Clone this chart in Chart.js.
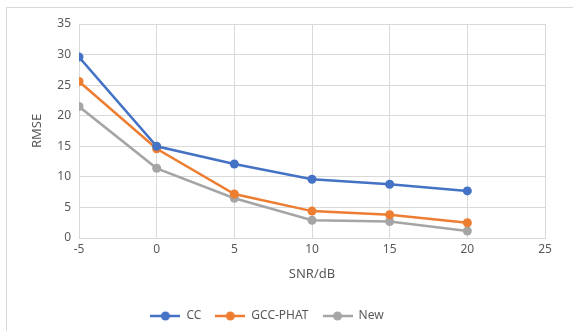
<!doctype html>
<html>
<head>
<meta charset="utf-8">
<script src="https://cdn.jsdelivr.net/npm/chart.js@4/dist/chart.umd.min.js"></script>
<style>
  html, body { margin: 0; padding: 0; background: #fff; }
  #wrap { position: relative; width: 573px; height: 331px; overflow: hidden; }
  #frame { position: absolute; left: 6px; top: 7px; width: 600px; height: 400px; border: 1px solid #d9d9d9; }
  #chart { position: absolute; left: 0; top: 0; }
</style>
</head>
<body>
<div id="wrap">
  <div id="frame"></div>
  <canvas id="chart" width="573" height="331"></canvas>
</div>
<script>
  const snr = [-5, 0, 5, 10, 15, 20];
  const ccValues = [29.6, 15.0, 12.1, 9.6, 8.8, 7.7];
  const gccValues = [25.6, 14.6, 7.2, 4.4, 3.8, 2.5];
  const newValues = [21.5, 11.4, 6.5, 2.9, 2.7, 1.15];
  const seriesNames = ['CC', 'GCC-PHAT', 'New'];
  const seriesColors = ['#4472C4', '#ED7D31', '#A5A5A5'];

  const fontFamily = '"Noto Sans", "DejaVu Sans", sans-serif';
  const textColor = '#595959';
  const gridColor = '#d9d9d9';

  // legend marker: short line with a dot, like Excel
  function legendMarker(color) {
    const c = document.createElement('canvas');
    c.width = 30; c.height = 10;
    const g = c.getContext('2d');
    g.strokeStyle = color;
    g.lineWidth = 2.5;
    g.beginPath(); g.moveTo(0, 5); g.lineTo(30, 5); g.stroke();
    g.fillStyle = color;
    g.beginPath(); g.arc(15, 5, 4.5, 0, Math.PI * 2); g.fill();
    return c;
  }

  function toPoints(values) {
    return snr.map((x, i) => ({ x: x, y: values[i] }));
  }

  const allValues = [ccValues, gccValues, newValues];

  // legend sits centred on the outer frame, not the chart area
  const shiftLegend = {
    id: 'shiftLegend',
    afterLayout(chart) {
      const lg = chart.legend;
      lg.left -= 20; lg.right -= 20;
      lg.top += 2; lg.bottom += 2;
    }
  };

  new Chart(document.getElementById('chart'), {
    type: 'line',
    data: {
      datasets: allValues.map((vals, i) => ({
        label: seriesNames[i],
        data: toPoints(vals),
        borderColor: seriesColors[i],
        backgroundColor: seriesColors[i],
        borderWidth: 2.5,
        pointStyle: 'circle',
        pointRadius: 4.5,
        pointHoverRadius: 4.5,
        pointBorderWidth: 0,
        tension: 0
      }))
    },
    plugins: [shiftLegend],
    options: {
      responsive: false,
      animation: false,
      layout: { padding: { top: 24, right: 28, left: 29, bottom: 1 } },
      scales: {
        x: {
          type: 'linear',
          min: -5, max: 25,
          ticks: { stepSize: 5, color: textColor, font: { family: fontFamily, size: 12 }, padding: 4 },
          grid: { color: gridColor, lineWidth: 1, drawTicks: false },
          border: { color: gridColor },
          title: { display: true, text: 'SNR/dB', color: textColor, font: { family: fontFamily, size: 13 }, padding: { top: 6, bottom: 12 } },
          afterFit(scale) { scale.height = 56; }
        },
        y: {
          min: 0, max: 35,
          ticks: { stepSize: 5, color: textColor, font: { family: fontFamily, size: 12 }, padding: 8 },
          grid: { color: gridColor, lineWidth: 1, drawTicks: false },
          border: { color: gridColor },
          title: { display: true, text: 'RMSE', color: textColor, font: { family: fontFamily, size: 13 }, padding: 0 },
          afterFit(scale) { scale.width = 50; }
        }
      },
      plugins: {
        tooltip: { enabled: false },
        legend: {
          position: 'bottom',
          labels: {
            color: textColor,
            font: { family: fontFamily, size: 12 },
            usePointStyle: true,
            pointStyleWidth: 30,
            padding: 14,
            generateLabels(chart) {
              return chart.data.datasets.map((ds, i) => ({
                text: ds.label,
                pointStyle: legendMarker(seriesColors[i]),
                fillStyle: seriesColors[i],
                strokeStyle: seriesColors[i],
                lineWidth: 0,
                fontColor: textColor,
                hidden: false,
                datasetIndex: i
              }));
            }
          }
        }
      }
    }
  });
</script>
</body>
</html>
